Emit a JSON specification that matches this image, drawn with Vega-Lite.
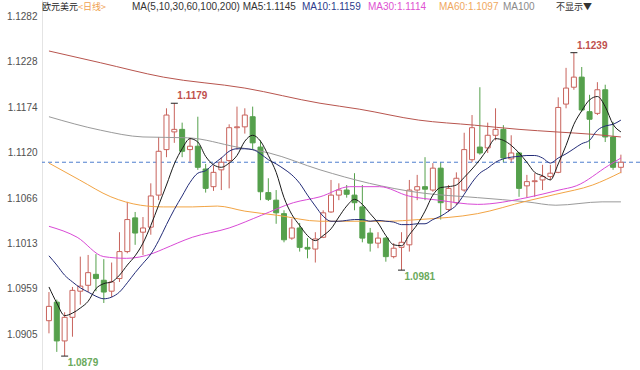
{
"$schema": "https://vega.github.io/schema/vega-lite/v6.json",
"width": 598, "height": 370,
"autosize": {"type": "none"},
"padding": {"left": 42, "top": 0, "right": 0, "bottom": 0},
"background": "white",
"config": {"view": {"stroke": null}},
"datasets": {
"k": [
{"i":0,"o":1.0921,"h":1.0955,"l":1.0906,"c":1.0938,"ma5":1.0961,"ma10":1.0998},
{"i":1,"o":1.0943,"h":1.0946,"l":1.0884,"c":1.0897,"ma5":1.0942,"ma10":1.0987},
{"i":2,"o":1.0897,"h":1.0931,"l":1.0879,"c":1.0925,"ma5":1.0927,"ma10":1.0975},
{"i":3,"o":1.0925,"h":1.0961,"l":1.0902,"c":1.0957,"ma5":1.0930,"ma10":1.0967},
{"i":4,"o":1.0956,"h":1.0997,"l":1.0940,"c":1.0962,"ma5":1.0936,"ma10":1.0960},
{"i":5,"o":1.0963,"h":1.0999,"l":1.0955,"c":1.0978,"ma5":1.0944,"ma10":1.0955},
{"i":6,"o":1.0976,"h":1.1000,"l":1.0956,"c":1.0971,"ma5":1.0959,"ma10":1.0950},
{"i":7,"o":1.0969,"h":1.0994,"l":1.0942,"c":1.0955,"ma5":1.0965,"ma10":1.0947},
{"i":8,"o":1.0956,"h":1.0990,"l":1.0949,"c":1.0967,"ma5":1.0967,"ma10":1.0949},
{"i":9,"o":1.0971,"h":1.1026,"l":1.0967,"c":1.1003,"ma5":1.0975,"ma10":1.0955},
{"i":10,"o":1.1003,"h":1.1062,"l":1.1001,"c":1.1041,"ma5":1.0987,"ma10":1.0966},
{"i":11,"o":1.1043,"h":1.1050,"l":1.1011,"c":1.1025,"ma5":1.0998,"ma10":1.0978},
{"i":12,"o":1.1026,"h":1.1044,"l":1.0999,"c":1.1031,"ma5":1.1013,"ma10":1.0989},
{"i":13,"o":1.1032,"h":1.1084,"l":1.1023,"c":1.1069,"ma5":1.1034,"ma10":1.1000},
{"i":14,"o":1.1070,"h":1.1139,"l":1.1064,"c":1.1122,"ma5":1.1058,"ma10":1.1016},
{"i":15,"o":1.1124,"h":1.1173,"l":1.1115,"c":1.1165,"ma5":1.1082,"ma10":1.1035},
{"i":16,"o":1.1145,"h":1.1179,"l":1.1132,"c":1.1148,"ma5":1.1107,"ma10":1.1053},
{"i":17,"o":1.1148,"h":1.1156,"l":1.1115,"c":1.1122,"ma5":1.1125,"ma10":1.1069},
{"i":18,"o":1.1124,"h":1.1138,"l":1.1108,"c":1.1128,"ma5":1.1137,"ma10":1.1085},
{"i":19,"o":1.1128,"h":1.1163,"l":1.1100,"c":1.1103,"ma5":1.1133,"ma10":1.1096},
{"i":20,"o":1.1101,"h":1.1107,"l":1.1073,"c":1.1078,"ma5":1.1116,"ma10":1.1099},
{"i":21,"o":1.1080,"h":1.1105,"l":1.1075,"c":1.1097,"ma5":1.1106,"ma10":1.1107},
{"i":22,"o":1.1100,"h":1.1115,"l":1.1076,"c":1.1109,"ma5":1.1103,"ma10":1.1114},
{"i":23,"o":1.1111,"h":1.1154,"l":1.1078,"c":1.1150,"ma5":1.1108,"ma10":1.1122},
{"i":24,"o":1.1150,"h":1.1175,"l":1.1124,"c":1.1151,"ma5":1.1117,"ma10":1.1125},
{"i":25,"o":1.1151,"h":1.1173,"l":1.1143,"c":1.1165,"ma5":1.1134,"ma10":1.1125},
{"i":26,"o":1.1163,"h":1.1175,"l":1.1124,"c":1.1132,"ma5":1.1141,"ma10":1.1124},
{"i":27,"o":1.1127,"h":1.1135,"l":1.1064,"c":1.1074,"ma5":1.1134,"ma10":1.1119},
{"i":28,"o":1.1073,"h":1.1090,"l":1.1063,"c":1.1065,"ma5":1.1117,"ma10":1.1112},
{"i":29,"o":1.1064,"h":1.1076,"l":1.1036,"c":1.1049,"ma5":1.1097,"ma10":1.1107},
{"i":30,"o":1.1048,"h":1.1052,"l":1.1014,"c":1.1017,"ma5":1.1067,"ma10":1.1101},
{"i":31,"o":1.1019,"h":1.1042,"l":1.1017,"c":1.1031,"ma5":1.1047,"ma10":1.1094},
{"i":32,"o":1.1031,"h":1.1037,"l":1.1003,"c":1.1008,"ma5":1.1034,"ma10":1.1084},
{"i":33,"o":1.1008,"h":1.1019,"l":1.0995,"c":1.1006,"ma5":1.1022,"ma10":1.1070},
{"i":34,"o":1.1006,"h":1.1026,"l":1.0990,"c":1.1018,"ma5":1.1016,"ma10":1.1057},
{"i":35,"o":1.1020,"h":1.1052,"l":1.1019,"c":1.1049,"ma5":1.1022,"ma10":1.1045},
{"i":36,"o":1.1050,"h":1.1088,"l":1.1049,"c":1.1070,"ma5":1.1030,"ma10":1.1039},
{"i":37,"o":1.1070,"h":1.1084,"l":1.1064,"c":1.1076,"ma5":1.1044,"ma10":1.1039},
{"i":38,"o":1.1076,"h":1.1082,"l":1.1067,"c":1.1071,"ma5":1.1057,"ma10":1.1040},
{"i":39,"o":1.1070,"h":1.1096,"l":1.1052,"c":1.1061,"ma5":1.1065,"ma10":1.1041},
{"i":40,"o":1.1056,"h":1.1082,"l":1.1014,"c":1.1019,"ma5":1.1059,"ma10":1.1041},
{"i":41,"o":1.1025,"h":1.1031,"l":1.1003,"c":1.1013,"ma5":1.1048,"ma10":1.1039},
{"i":42,"o":1.1013,"h":1.1026,"l":1.1007,"c":1.1019,"ma5":1.1037,"ma10":1.1040},
{"i":43,"o":1.1019,"h":1.1020,"l":1.0991,"c":1.0997,"ma5":1.1022,"ma10":1.1039},
{"i":44,"o":1.0997,"h":1.1013,"l":1.0995,"c":1.1007,"ma5":1.1011,"ma10":1.1038},
{"i":45,"o":1.1008,"h":1.1026,"l":1.0981,"c":1.1014,"ma5":1.1010,"ma10":1.1035},
{"i":46,"o":1.1011,"h":1.1088,"l":1.1003,"c":1.1076,"ma5":1.1023,"ma10":1.1035},
{"i":47,"o":1.1076,"h":1.1094,"l":1.1064,"c":1.1080,"ma5":1.1035,"ma10":1.1036},
{"i":48,"o":1.1080,"h":1.1115,"l":1.1064,"c":1.1077,"ma5":1.1051,"ma10":1.1036},
{"i":49,"o":1.1076,"h":1.1108,"l":1.1074,"c":1.1102,"ma5":1.1070,"ma10":1.1041},
{"i":50,"o":1.1102,"h":1.1109,"l":1.1041,"c":1.1061,"ma5":1.1079,"ma10":1.1045},
{"i":51,"o":1.1053,"h":1.1082,"l":1.1050,"c":1.1078,"ma5":1.1080,"ma10":1.1051},
{"i":52,"o":1.1061,"h":1.1097,"l":1.1058,"c":1.1090,"ma5":1.1082,"ma10":1.1058},
{"i":53,"o":1.1076,"h":1.1144,"l":1.1074,"c":1.1124,"ma5":1.1091,"ma10":1.1071},
{"i":54,"o":1.1112,"h":1.1165,"l":1.1109,"c":1.1150,"ma5":1.1101,"ma10":1.1085},
{"i":55,"o":1.1127,"h":1.1198,"l":1.1118,"c":1.1120,"ma5":1.1112,"ma10":1.1096},
{"i":56,"o":1.1126,"h":1.1156,"l":1.1120,"c":1.1141,"ma5":1.1125,"ma10":1.1102},
{"i":57,"o":1.1141,"h":1.1173,"l":1.1135,"c":1.1148,"ma5":1.1137,"ma10":1.1109},
{"i":58,"o":1.1148,"h":1.1153,"l":1.1109,"c":1.1114,"ma5":1.1135,"ma10":1.1113},
{"i":59,"o":1.1113,"h":1.1141,"l":1.1108,"c":1.1120,"ma5":1.1129,"ma10":1.1115},
{"i":60,"o":1.1120,"h":1.1121,"l":1.1068,"c":1.1078,"ma5":1.1120,"ma10":1.1116},
{"i":61,"o":1.1081,"h":1.1094,"l":1.1067,"c":1.1086,"ma5":1.1109,"ma10":1.1117},
{"i":62,"o":1.1086,"h":1.1096,"l":1.1068,"c":1.1087,"ma5":1.1097,"ma10":1.1117},
{"i":63,"o":1.1088,"h":1.1106,"l":1.1076,"c":1.1092,"ma5":1.1093,"ma10":1.1114},
{"i":64,"o":1.1092,"h":1.1106,"l":1.1088,"c":1.1096,"ma5":1.1088,"ma10":1.1108},
{"i":65,"o":1.1097,"h":1.1186,"l":1.1096,"c":1.1174,"ma5":1.1107,"ma10":1.1114},
{"i":66,"o":1.1178,"h":1.1221,"l":1.1173,"c":1.1197,"ma5":1.1129,"ma10":1.1119},
{"i":67,"o":1.1198,"h":1.1239,"l":1.1195,"c":1.1210,"ma5":1.1154,"ma10":1.1125},
{"i":68,"o":1.1210,"h":1.1222,"l":1.1169,"c":1.1171,"ma5":1.1170,"ma10":1.1131},
{"i":69,"o":1.1169,"h":1.1189,"l":1.1125,"c":1.1160,"ma5":1.1183,"ma10":1.1135},
{"i":70,"o":1.1167,"h":1.1204,"l":1.1165,"c":1.1195,"ma5":1.1187,"ma10":1.1147},
{"i":71,"o":1.1195,"h":1.1201,"l":1.1133,"c":1.1139,"ma5":1.1175,"ma10":1.1152},
{"i":72,"o":1.1139,"h":1.1157,"l":1.1100,"c":1.1103,"ma5":1.1154,"ma10":1.1154},
{"i":73,"o":1.1103,"h":1.1118,"l":1.1096,"c":1.1109,"ma5":1.1145,"ma10":1.1159}
],
"lma": [
{"i":0,"s":"MA200","v":1.1241},{"i":6.6,"s":"MA200","v":1.1227},{"i":14.6,"s":"MA200","v":1.1210},{"i":25,"s":"MA200","v":1.1197},{"i":34.6,"s":"MA200","v":1.1179},{"i":39.6,"s":"MA200","v":1.1172},{"i":47.2,"s":"MA200","v":1.1159},{"i":54.3,"s":"MA200","v":1.1153},{"i":60,"s":"MA200","v":1.1148},{"i":64.7,"s":"MA200","v":1.1145},{"i":69.6,"s":"MA200","v":1.1142},{"i":73,"s":"MA200","v":1.1139},
{"i":0,"s":"MA100","v":1.1163},{"i":6.6,"s":"MA100","v":1.1147},{"i":12,"s":"MA100","v":1.1139},{"i":17.7,"s":"MA100","v":1.1138},{"i":24,"s":"MA100","v":1.1127},{"i":28.1,"s":"MA100","v":1.1120},{"i":34.6,"s":"MA100","v":1.1100},{"i":40.9,"s":"MA100","v":1.1084},{"i":47.2,"s":"MA100","v":1.1073},{"i":54.7,"s":"MA100","v":1.1067},{"i":61,"s":"MA100","v":1.1062},{"i":64.7,"s":"MA100","v":1.1058},{"i":70.6,"s":"MA100","v":1.1062},{"i":73,"s":"MA100","v":1.1062},
{"i":0,"s":"MA60","v":1.1108},{"i":3.9,"s":"MA60","v":1.1088},{"i":7.9,"s":"MA60","v":1.1068},{"i":11.7,"s":"MA60","v":1.1058},{"i":14.6,"s":"MA60","v":1.1056},{"i":18.3,"s":"MA60","v":1.1056},{"i":21.5,"s":"MA60","v":1.1057},{"i":25,"s":"MA60","v":1.1051},{"i":29.2,"s":"MA60","v":1.1046},{"i":34.6,"s":"MA60","v":1.1039},{"i":43,"s":"MA60","v":1.1039},{"i":47.2,"s":"MA60","v":1.1041},{"i":54.7,"s":"MA60","v":1.1048},{"i":61,"s":"MA60","v":1.1063},{"i":64.7,"s":"MA60","v":1.1071},{"i":69.4,"s":"MA60","v":1.1082},{"i":73,"s":"MA60","v":1.1097},
{"i":0,"s":"MA30","v":1.1033},{"i":3.6,"s":"MA30","v":1.1020},{"i":7,"s":"MA30","v":1.0997},{"i":9.9,"s":"MA30","v":1.0995},{"i":13.3,"s":"MA30","v":1.1001},{"i":14.6,"s":"MA30","v":1.1006},{"i":18.3,"s":"MA30","v":1.1020},{"i":23,"s":"MA30","v":1.1031},{"i":27.1,"s":"MA30","v":1.1046},{"i":31.2,"s":"MA30","v":1.1061},{"i":34.6,"s":"MA30","v":1.1068},{"i":38.4,"s":"MA30","v":1.1080},{"i":42.2,"s":"MA30","v":1.1080},{"i":45.9,"s":"MA30","v":1.1069},{"i":49.7,"s":"MA30","v":1.1064},{"i":54.7,"s":"MA30","v":1.1059},{"i":61,"s":"MA30","v":1.1067},{"i":65.1,"s":"MA30","v":1.1076},{"i":67.3,"s":"MA30","v":1.1081},{"i":71.4,"s":"MA30","v":1.1105},{"i":73,"s":"MA30","v":1.1114}
],
"ext": [
{"i":16,"v":1.1179,"t":"1.1179","kind":"high"},
{"i":67,"v":1.1239,"t":"1.1239","kind":"high"},
{"i":45,"v":1.0981,"t":"1.0981","kind":"low"},
{"i":2,"v":1.0879,"t":"1.0879","kind":"low"}
]
},
"layer": [
{
"data": {"name": "k"},
"mark": {"type": "rule", "strokeWidth": 1},
"encoding": {
"x": {"field": "i", "type": "quantitative", "scale": {"domain": [-0.25, 74.8], "nice": false, "zero": false}, "axis": null},
"y": {"field": "l", "type": "quantitative", "scale": {"domain": [1.08625, 1.13015], "nice": false, "zero": false},
"axis": {"orient": "left", "values": [1.0905, 1.0959, 1.1013, 1.1066, 1.112, 1.1174, 1.1228, 1.1282], "format": ".4f", "title": null, "ticks": false, "tickSize": 0, "grid": false, "domain": true, "domainColor": "#e4e4e4", "labelFont": "Liberation Sans", "labelFontSize": 10, "labelColor": "#505050", "labelPadding": 5}},
"y2": {"field": "h"},
"color": {"condition": {"test": "datum.c >= datum.o", "value": "#c8635c"}, "value": "#55a04c"}
}
},
{
"data": {"values": [{"p": 1.1109}]},
"mark": {"type": "rule", "color": "#4f7fcf", "strokeDash": [4, 3], "strokeWidth": 1},
"encoding": {
"y": {"field": "p", "type": "quantitative", "scale": {"domain": [1.08625, 1.13015], "nice": false, "zero": false},
"axis": {"orient": "left", "values": [1.0905, 1.0959, 1.1013, 1.1066, 1.112, 1.1174, 1.1228, 1.1282], "format": ".4f", "title": null, "ticks": false, "tickSize": 0, "grid": false, "domain": true, "domainColor": "#e4e4e4", "labelFont": "Liberation Sans", "labelFontSize": 10, "labelColor": "#505050", "labelPadding": 5}}
}
},
{
"data": {"name": "k"},
"mark": {"type": "bar", "size": 5, "strokeWidth": 1},
"encoding": {
"x": {"field": "i", "type": "quantitative", "scale": {"domain": [-0.25, 74.8], "nice": false, "zero": false}, "axis": null},
"y": {"field": "o", "type": "quantitative", "scale": {"domain": [1.08625, 1.13015], "nice": false, "zero": false},
"axis": {"orient": "left", "values": [1.0905, 1.0959, 1.1013, 1.1066, 1.112, 1.1174, 1.1228, 1.1282], "format": ".4f", "title": null, "ticks": false, "tickSize": 0, "grid": false, "domain": true, "domainColor": "#e4e4e4", "labelFont": "Liberation Sans", "labelFontSize": 10, "labelColor": "#505050", "labelPadding": 5}},
"y2": {"field": "c"},
"fill": {"condition": {"test": "datum.c >= datum.o", "value": "#ffffff"}, "value": "#55a04c"},
"stroke": {"condition": {"test": "datum.c >= datum.o", "value": "#c8635c"}, "value": "#55a04c"}
}
},
{
"data": {"name": "lma"},
"mark": {"type": "line", "strokeWidth": 1, "interpolate": "monotone"},
"encoding": {
"x": {"field": "i", "type": "quantitative", "scale": {"domain": [-0.25, 74.8], "nice": false, "zero": false}, "axis": null},
"y": {"field": "v", "type": "quantitative", "scale": {"domain": [1.08625, 1.13015], "nice": false, "zero": false},
"axis": {"orient": "left", "values": [1.0905, 1.0959, 1.1013, 1.1066, 1.112, 1.1174, 1.1228, 1.1282], "format": ".4f", "title": null, "ticks": false, "tickSize": 0, "grid": false, "domain": true, "domainColor": "#e4e4e4", "labelFont": "Liberation Sans", "labelFontSize": 10, "labelColor": "#505050", "labelPadding": 5}},
"color": {"field": "s", "type": "nominal", "scale": {"domain": ["MA30", "MA60", "MA100", "MA200"], "range": ["#d94ad6", "#f2a444", "#9a9a9a", "#b8554e"]}, "legend": null}
}
},
{
"data": {"name": "k"},
"mark": {"type": "line", "strokeWidth": 1, "interpolate": "monotone", "color": "#232c78"},
"encoding": {
"x": {"field": "i", "type": "quantitative", "scale": {"domain": [-0.25, 74.8], "nice": false, "zero": false}, "axis": null},
"y": {"field": "ma10", "type": "quantitative", "scale": {"domain": [1.08625, 1.13015], "nice": false, "zero": false},
"axis": {"orient": "left", "values": [1.0905, 1.0959, 1.1013, 1.1066, 1.112, 1.1174, 1.1228, 1.1282], "format": ".4f", "title": null, "ticks": false, "tickSize": 0, "grid": false, "domain": true, "domainColor": "#e4e4e4", "labelFont": "Liberation Sans", "labelFontSize": 10, "labelColor": "#505050", "labelPadding": 5}}
}
},
{
"data": {"name": "k"},
"mark": {"type": "line", "strokeWidth": 1, "interpolate": "monotone", "color": "#1a1a1a"},
"encoding": {
"x": {"field": "i", "type": "quantitative", "scale": {"domain": [-0.25, 74.8], "nice": false, "zero": false}, "axis": null},
"y": {"field": "ma5", "type": "quantitative", "scale": {"domain": [1.08625, 1.13015], "nice": false, "zero": false},
"axis": {"orient": "left", "values": [1.0905, 1.0959, 1.1013, 1.1066, 1.112, 1.1174, 1.1228, 1.1282], "format": ".4f", "title": null, "ticks": false, "tickSize": 0, "grid": false, "domain": true, "domainColor": "#e4e4e4", "labelFont": "Liberation Sans", "labelFontSize": 10, "labelColor": "#505050", "labelPadding": 5}}
}
},
{
"data": {"name": "ext"},
"mark": {"type": "tick", "orient": "horizontal", "size": 7, "thickness": 1, "color": "#222222", "opacity": 1},
"encoding": {
"x": {"field": "i", "type": "quantitative", "scale": {"domain": [-0.25, 74.8], "nice": false, "zero": false}, "axis": null},
"y": {"field": "v", "type": "quantitative", "scale": {"domain": [1.08625, 1.13015], "nice": false, "zero": false},
"axis": {"orient": "left", "values": [1.0905, 1.0959, 1.1013, 1.1066, 1.112, 1.1174, 1.1228, 1.1282], "format": ".4f", "title": null, "ticks": false, "tickSize": 0, "grid": false, "domain": true, "domainColor": "#e4e4e4", "labelFont": "Liberation Sans", "labelFontSize": 10, "labelColor": "#505050", "labelPadding": 5}}
}
},
{
"data": {"name": "ext"},
"transform": [{"filter": "datum.kind == 'high'"}],
"mark": {"type": "text", "align": "left", "baseline": "middle", "dx": 3, "dy": -7, "font": "Liberation Sans", "fontSize": 10, "fontWeight": "bold", "color": "#c0504d"},
"encoding": {
"x": {"field": "i", "type": "quantitative", "scale": {"domain": [-0.25, 74.8], "nice": false, "zero": false}, "axis": null},
"y": {"field": "v", "type": "quantitative", "scale": {"domain": [1.08625, 1.13015], "nice": false, "zero": false},
"axis": {"orient": "left", "values": [1.0905, 1.0959, 1.1013, 1.1066, 1.112, 1.1174, 1.1228, 1.1282], "format": ".4f", "title": null, "ticks": false, "tickSize": 0, "grid": false, "domain": true, "domainColor": "#e4e4e4", "labelFont": "Liberation Sans", "labelFontSize": 10, "labelColor": "#505050", "labelPadding": 5}},
"text": {"field": "t"}
}
},
{
"data": {"name": "ext"},
"transform": [{"filter": "datum.kind == 'low'"}],
"mark": {"type": "text", "align": "left", "baseline": "middle", "dx": 3, "dy": 7, "font": "Liberation Sans", "fontSize": 10, "fontWeight": "bold", "color": "#6aaa5c"},
"encoding": {
"x": {"field": "i", "type": "quantitative", "scale": {"domain": [-0.25, 74.8], "nice": false, "zero": false}, "axis": null},
"y": {"field": "v", "type": "quantitative", "scale": {"domain": [1.08625, 1.13015], "nice": false, "zero": false},
"axis": {"orient": "left", "values": [1.0905, 1.0959, 1.1013, 1.1066, 1.112, 1.1174, 1.1228, 1.1282], "format": ".4f", "title": null, "ticks": false, "tickSize": 0, "grid": false, "domain": true, "domainColor": "#e4e4e4", "labelFont": "Liberation Sans", "labelFontSize": 10, "labelColor": "#505050", "labelPadding": 5}},
"text": {"field": "t"}
}
},
{
"data": {"values": [{"t": "欧元美元"}]},
"mark": {"type": "text", "align": "left", "baseline": "middle", "font": "Noto Sans CJK SC", "fontSize": 9, "color": "#222222"},
"encoding": {"x": {"value": 0}, "y": {"value": 7}, "text": {"field": "t"}}
},
{
"data": {"values": [{"t": "<日线>"}]},
"mark": {"type": "text", "align": "left", "baseline": "middle", "font": "Noto Sans CJK SC", "fontSize": 9, "color": "#f0a050"},
"encoding": {"x": {"value": 36}, "y": {"value": 7}, "text": {"field": "t"}}
},
{
"data": {"values": [{"t": "MA(5,10,30,60,100,200) MA5:1.1145"}]},
"mark": {"type": "text", "align": "left", "baseline": "middle", "font": "Liberation Sans", "fontSize": 10, "color": "#333333"},
"encoding": {"x": {"value": 90}, "y": {"value": 7}, "text": {"field": "t"}}
},
{
"data": {"values": [{"t": "MA10:1.1159"}]},
"mark": {"type": "text", "align": "left", "baseline": "middle", "font": "Liberation Sans", "fontSize": 10, "color": "#2c3a8c"},
"encoding": {"x": {"value": 260}, "y": {"value": 7}, "text": {"field": "t"}}
},
{
"data": {"values": [{"t": "MA30:1.1114"}]},
"mark": {"type": "text", "align": "left", "baseline": "middle", "font": "Liberation Sans", "fontSize": 10, "color": "#e052d2"},
"encoding": {"x": {"value": 326}, "y": {"value": 7}, "text": {"field": "t"}}
},
{
"data": {"values": [{"t": "MA60:1.1097"}]},
"mark": {"type": "text", "align": "left", "baseline": "middle", "font": "Liberation Sans", "fontSize": 10, "color": "#f0a860"},
"encoding": {"x": {"value": 397}, "y": {"value": 7}, "text": {"field": "t"}}
},
{
"data": {"values": [{"t": "MA100"}]},
"mark": {"type": "text", "align": "left", "baseline": "middle", "font": "Liberation Sans", "fontSize": 10, "color": "#8a8a8a"},
"encoding": {"x": {"value": 461}, "y": {"value": 7}, "text": {"field": "t"}}
},
{
"data": {"values": [{"t": "不显示▼"}]},
"mark": {"type": "text", "align": "left", "baseline": "middle", "font": "Noto Sans CJK SC", "fontSize": 9, "color": "#333333"},
"encoding": {"x": {"value": 514}, "y": {"value": 7}, "text": {"field": "t"}}
}
]
}
